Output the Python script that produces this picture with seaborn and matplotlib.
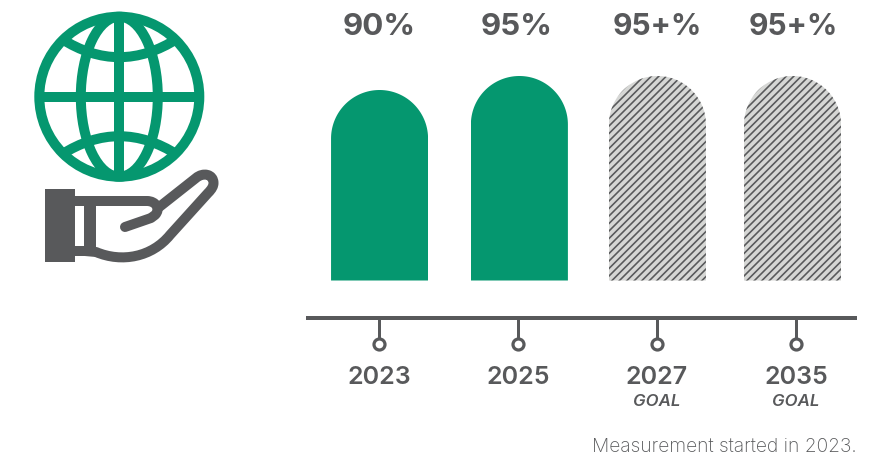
import numpy as np
import pandas as pd
import seaborn as sns
import matplotlib
matplotlib.use("Agg")
import matplotlib.pyplot as plt
from matplotlib.path import Path
from matplotlib.patches import PathPatch, Circle, Rectangle, Ellipse

# Data
years = ["2023", "2025", "2027", "2035"]
values = [90, 95, 95, 95]
value_labels = ["90%", "95%", "95+%", "95+%"]
status = ["actual", "actual", "goal", "goal"]
goal_note = "GOAL"
footnote = "Measurement started in 2023."

GREEN = "#05976f"
DARK = "#58595b"
HATCH_BG = "#d6d7d5"
W, H, DPI = 896, 459, 90

sns.set_theme(style="white")
plt.rcParams["font.family"] = ["Inter", "DejaVu Sans"]
plt.rcParams["hatch.linewidth"] = 1.3
px = 72 / DPI  # one pixel in points

fig = plt.figure(figsize=(W / DPI, H / DPI), dpi=DPI, facecolor="white")

# Chart axes: the bottom spine is the timeline
ax_left, ax_right, ax_bottom, ax_top = 306, 857, 318.7, 0.7
ax_h = ax_bottom - ax_top
ax = fig.add_axes([ax_left / W, 1 - ax_bottom / H,
                   (ax_right - ax_left) / W, ax_h / H])
frame = pd.DataFrame({"year": years, "value": values, "status": status})
sns.barplot(data=frame, x="year", y="value", hue="status", dodge=False,
            palette={"actual": GREEN, "goal": HATCH_BG}, width=0.698,
            saturation=1, legend=False, ax=ax, linewidth=0)

unit_x = 139.0   # pixels per category
unit_y = 2.8     # pixels per percentage point
ax.set_xlim((ax_left - 379) / unit_x, (ax_right - 379) / unit_x)
ax.set_ylim(90 - (ax_bottom - 91) / unit_y, 90 + (91 - ax_top) / unit_y)
baseline = 90 - (281.5 - 91) / unit_y
bar_shift = [0.004, 0.01, 0.003, -0.025]

bars = [b for b in ax.patches if b.get_height() > 0]
bars.sort(key=lambda b: b.get_x())
for bar, shift, kind in zip(bars, bar_shift, status):
    bar.set_x(bar.get_x() + shift)
    x0, w, top = bar.get_x(), bar.get_width(), bar.get_height()
    rx = w / 2
    ry = rx * unit_x / unit_y
    theta = np.linspace(np.pi, 0, 80)
    xs = np.r_[x0, x0 + rx + rx * np.cos(theta), x0 + w, x0]
    ys = np.r_[baseline, top - ry + ry * np.sin(theta), baseline, baseline]
    bar.set_clip_path(Path(np.c_[xs, ys]), ax.transData)
    if kind == "goal":
        bar.set_hatch("////")
        bar.set_edgecolor(DARK)
        bar.set_linewidth(0)

# Value labels sit on one line above the bars
label_shift = [0.0, -0.007, 0.0, -0.022]
label_sizes = [25, 25, 24, 24]
for i, (txt, s, fs) in enumerate(zip(value_labels, label_shift, label_sizes)):
    ax.text(i + s, (ax_bottom - 27) / ax_h, txt, transform=ax.get_xaxis_transform(),
            ha="center", va="center", fontsize=fs, fontweight="bold", color=DARK)

# Timeline with lollipop ticks
sns.despine(ax=ax, left=True, top=True, right=True)
ax.spines["bottom"].set_color(DARK)
ax.spines["bottom"].set_linewidth(4 * px)
ax.spines["bottom"].set_capstyle("butt")
ax.set_yticks([])
ax.set_xlabel("")
ax.set_ylabel("")
ax.tick_params(axis="x", length=21 * px, width=3 * px, color=DARK, pad=26.5 * px,
               labelsize=20, labelcolor=DARK, bottom=True)
ax.set_xticks(range(len(years)), years)
for lab in ax.get_xticklabels():
    lab.set_fontweight("semibold")
tick_y = -26.5 / ax_h
ax.plot(range(len(years)), [tick_y] * len(years), transform=ax.get_xaxis_transform(),
        ls="none", marker="o", ms=11 * px, mfc="white", mec=DARK, mew=3.2 * px,
        clip_on=False, zorder=5)
for i, kind in enumerate(status):
    if kind == "goal":
        ax.text(i, (ax_bottom - 401) / ax_h, goal_note, transform=ax.get_xaxis_transform(),
                ha="center", va="center", fontsize=13.5, style="italic",
                fontweight="semibold", color=DARK)
fig.text(857 / W, 1 - 446.5 / H, footnote, ha="right", va="center", fontsize=15.4,
         fontweight="light", color="#58595b")

# Globe-in-hand icon, drawn in pixel coordinates
icon = fig.add_axes([0, 0, 1, 1], facecolor="none")
icon.set_xlim(0, W)
icon.set_ylim(H, 0)
icon.axis("off")
cx, cy, r = 119.3, 97.7, 80
sw = 10 * px
clip = Circle((cx, cy), r, transform=icon.transData)
icon.add_patch(Circle((cx, cy), r, fc="none", ec=GREEN, lw=sw))
icon.add_patch(Ellipse((cx, cy), 2 * 38.5, 2 * r, fc="none", ec=GREEN, lw=sw))
icon.plot([cx - r, cx + r], [cy, cy], color=GREEN, lw=sw, solid_capstyle="butt")
icon.plot([cx, cx], [cy - r, cy + r], color=GREEN, lw=sw, solid_capstyle="butt")
for sign in (-1, 1):
    lat = PathPatch(Path([(cx - 58, cy + sign * 58), (cx, cy + sign * 21), (cx + 58, cy + sign * 58)],
                         [Path.MOVETO, Path.CURVE3, Path.CURVE3]),
                    fc="none", ec=GREEN, lw=sw, capstyle="butt")
    icon.add_patch(lat)
    lat.set_clip_path(clip)

icon.add_patch(Rectangle((45, 190), 30, 73, fc=DARK, ec="none"))
hs = 10 * px
M, L, C = Path.MOVETO, Path.LINETO, Path.CURVE4
hand = Path([(75, 202), (147, 202), (156, 202), (161, 210), (155, 216), (151, 219), (125, 228)],
            [M, L, C, C, C, L, L])
finger = Path([(158, 209), (196, 179), (203, 173), (213.5, 175), (213.5, 184), (213.5, 187), (212, 190),
               (208, 194), (170, 236), (152, 258), (122, 264), (96, 253), (85, 252), (75, 252)],
              [M, L, C, C, C, C, C, C, L, C, C, C, L, L])
wrist = Path([(90, 201), (90, 256)], [M, L])
for p, cap, lw in ((hand, "round", hs), (finger, "butt", hs), (wrist, "butt", 12 * px)):
    icon.add_patch(PathPatch(p, fc="none", ec=DARK, lw=lw, capstyle=cap, joinstyle="round"))

fig.savefig("out.png", dpi=DPI, facecolor="white")
